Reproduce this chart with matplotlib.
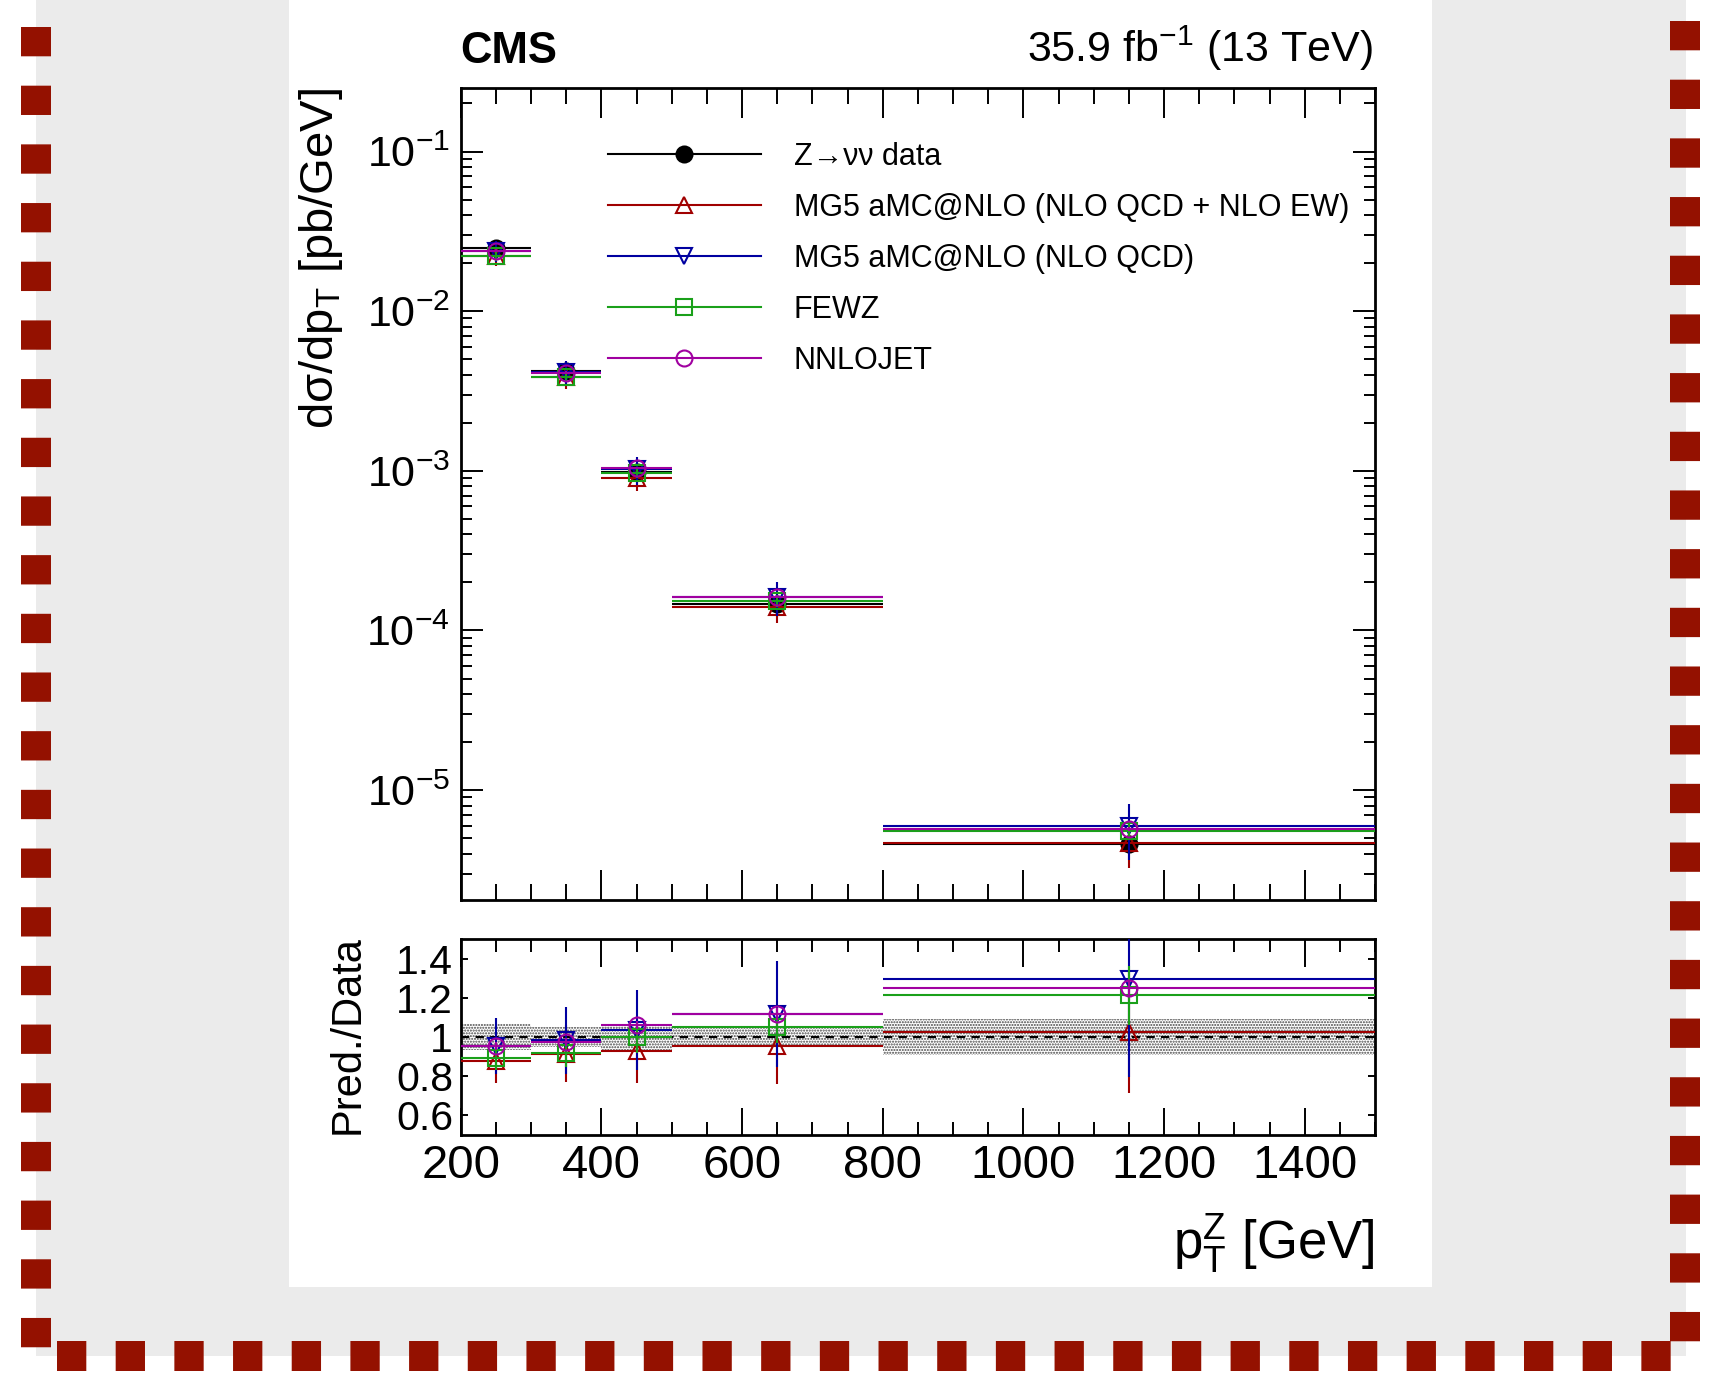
import matplotlib
matplotlib.use('Agg')
import matplotlib.pyplot as plt
import numpy as np
from matplotlib.lines import Line2D
from matplotlib.patches import Rectangle
from matplotlib.ticker import MultipleLocator, LogLocator, NullFormatter, FuncFormatter

plt.rcParams['font.family'] = ['Liberation Sans', 'DejaVu Sans']
plt.rcParams['mathtext.fontset'] = 'custom'
plt.rcParams['mathtext.rm'] = 'Liberation Sans'
plt.rcParams['mathtext.it'] = 'Liberation Sans:italic'
plt.rcParams['mathtext.bf'] = 'Liberation Sans:bold'
plt.rcParams['mathtext.sf'] = 'Liberation Sans'
plt.rcParams['mathtext.default'] = 'regular'
plt.rcParams['hatch.linewidth'] = 1.0

# ---------------- data ----------------
bin_edges = [200, 300, 400, 500, 800, 1500]

series_labels = ['Z→νν data',
                 'MG5 aMC@NLO (NLO QCD + NLO EW)',
                 'MG5 aMC@NLO (NLO QCD)',
                 'FEWZ',
                 'NNLOJET']

# main panel: dsigma/dpT [pb/GeV]
data_xsec   = [0.0250, 0.00423, 0.00098, 1.46e-4, 4.57e-6]
ewk_xsec    = [0.0221, 0.00388, 0.000908, 1.40e-4, 4.65e-6]
qcd_xsec    = [0.0239, 0.00416, 0.00102, 1.63e-4, 5.93e-6]
fewz_xsec   = [0.0222, 0.00389, 0.000975, 1.52e-4, 5.55e-6]
nnlo_xsec   = [0.0239, 0.00412, 0.00104, 1.63e-4, 5.72e-6]

# data relative uncertainty (band in ratio panel)
data_relunc = [0.065, 0.052, 0.064, 0.050, 0.090]

# ratio panel: prediction / data and uncertainties
ewk_ratio  = [0.880, 0.915, 0.931, 0.953, 1.024]
ewk_err    = [0.116, 0.145, 0.167, 0.194, 0.311]
qcd_ratio  = [0.953, 0.983, 1.037, 1.118, 1.298]
qcd_err    = [0.142, 0.172, 0.204, 0.270, 0.500]
fewz_ratio = [0.892, 0.919, 1.000, 1.050, 1.212]
fewz_err   = [0.060, 0.070, 0.080, 0.080, 0.150]
nnlo_ratio = [0.953, 0.973, 1.063, 1.118, 1.250]
nnlo_err   = [0.020, 0.020, 0.020, 0.030, 0.040]

colors  = ['black', '#A00000', '#0000A0', '#1AA01A', '#A000A0']
markers = ['o', '^', 'v', 's', 'o']

# ---------------- figure ----------------
W, H = 1715, 1384
fig = plt.figure(figsize=(W / 100, H / 100), dpi=100, facecolor='white')

def fx(px):
    return px / W

def fy(py):
    return 1 - py / H

# decorative background frame
fig.add_artist(Rectangle((fx(36), fy(1356)), fx(1686) - fx(36), fy(0) - fy(1356),
                         transform=fig.transFigure, facecolor='#EBEBEB', edgecolor='none', zorder=-10))
fig.add_artist(Rectangle((fx(289), fy(1287)), fx(1432) - fx(289), fy(0) - fy(1287),
                         transform=fig.transFigure, facecolor='white', edgecolor='none', zorder=-9))
border_kw = dict(transform=fig.transFigure, color='#941100', lw=21.6, solid_capstyle='butt',
                 dash_capstyle='butt', zorder=-8)
for xs, ys in [((fx(36), fx(36)), (fy(27), fy(1350))),
               ((fx(1685.5), fx(1685.5)), (fy(21), fy(1345))),
               ((fx(57), fx(1675)), (fy(1355.5), fy(1355.5)))]:
    ln = Line2D(xs, ys, **border_kw)
    ln.set_dashes((0.977, 0.979))
    fig.add_artist(ln)

ax = fig.add_axes([fx(460.7), fy(900), fx(1375) - fx(460.7), fy(88) - fy(900)])
axr = fig.add_axes([fx(460.7), fy(1135), fx(1375) - fx(460.7), fy(939) - fy(1135)])

edges = np.array(bin_edges, dtype=float)
centers = 0.5 * (edges[1:] + edges[:-1])
halfw = 0.5 * (edges[1:] - edges[:-1])

main_vals = [data_xsec, ewk_xsec, qcd_xsec, fewz_xsec, nnlo_xsec]
ratio_vals = [None, ewk_ratio, qcd_ratio, fewz_ratio, nnlo_ratio]
ratio_errs = [None, ewk_err, qcd_err, fewz_err, nnlo_err]

for i in range(5):
    vals = np.array(main_vals[i])
    if i == 0:
        rel = np.array(data_relunc)
        mfc = 'black'
    else:
        rel = np.array(ratio_errs[i]) / np.array(ratio_vals[i])
        mfc = 'none'
    ax.errorbar(centers, vals, xerr=halfw, yerr=vals * rel, fmt=markers[i], color=colors[i],
                mfc=mfc, mec=colors[i], ms=11.5, mew=1.5, elinewidth=1.5, capsize=0,
                zorder=3 + i)

# ratio panel
dr = np.array(data_relunc)
for j in range(len(centers)):
    axr.fill_between([edges[j], edges[j + 1]], [1 - dr[j]] * 2, [1 + dr[j]] * 2,
                     facecolor='none', edgecolor='#444444', hatch='......', linewidth=0, zorder=1)
axr.axhline(1.0, color='black', ls=(0, (4, 3)), lw=1.5, zorder=2)
for i in range(1, 5):
    axr.errorbar(centers, ratio_vals[i], xerr=halfw, yerr=ratio_errs[i], fmt=markers[i],
                 color=colors[i], mfc='none', mec=colors[i], ms=11.5, mew=1.5,
                 elinewidth=1.5, capsize=0, zorder=3 + i)

# axes styling
for a in (ax, axr):
    a.set_xlim(200, 1500)
    for s in a.spines.values():
        s.set_linewidth(2.0)
    a.xaxis.set_major_locator(MultipleLocator(200))
    a.xaxis.set_minor_locator(MultipleLocator(50))
    a.tick_params(which='both', direction='in', top=True, right=True, width=1.4)

ax.set_yscale('log')
ax.set_ylim(2.05e-6, 0.25)
ax.yaxis.set_major_locator(LogLocator(base=10, numticks=20))
ax.yaxis.set_minor_locator(LogLocator(base=10, subs=np.arange(2, 10), numticks=20))
ax.yaxis.set_minor_formatter(NullFormatter())
ax.yaxis.set_major_formatter(FuncFormatter(lambda v, p: r'$10^{%d}$' % int(round(np.log10(v)))))
ax.xaxis.set_tick_params(which='major', length=21.6)
ax.xaxis.set_tick_params(which='minor', length=11.3)
ax.yaxis.set_tick_params(which='major', length=15.8, labelsize=31, pad=7.7)
ax.yaxis.set_tick_params(which='minor', length=7.9)
ax.tick_params(axis='x', labelbottom=False)

axr.set_ylim(0.5, 1.5)
axr.set_yticks([0.6, 0.8, 1.0, 1.2, 1.4])
axr.set_yticklabels(['0.6', '0.8', '1', '1.2', '1.4'])
axr.xaxis.set_tick_params(which='major', length=19.8, labelsize=34, pad=6.5)
axr.xaxis.set_tick_params(which='minor', length=9.4)
axr.yaxis.set_tick_params(which='major', length=5, labelsize=29.5, pad=5.5)

ax.set_ylabel(r'd$\sigma$/dp$_{T}$ [pb/GeV]', fontsize=34, loc='top', va='baseline')
ax.yaxis.set_label_coords(-0.1397, 1.0)
axr.set_ylabel('Pred./Data', fontsize=30, va='baseline')
axr.yaxis.set_label_coords(-0.112, 0.51)
axr.set_xlabel(r'p$_{T}^{Z}$ [GeV]', fontsize=38, loc='right', va='baseline')
axr.xaxis.set_label_coords(1.0, -(1259 - 1135) / (1135 - 939))

ax.text(0.0, 1 + (88 - 62.7) / 812, 'CMS', transform=ax.transAxes, fontsize=31.5,
        fontweight='bold', ha='left', va='baseline')
ax.text(0.9978, 1 + (88 - 61.7) / 812, r'35.9 fb$^{-1}$ (13 TeV)', transform=ax.transAxes,
        fontsize=31, ha='right', va='baseline')

handles = []
for i in range(5):
    handles.append(Line2D([], [], color=colors[i], marker=markers[i], lw=1.5, ms=11.5, mew=1.5,
                          mfc='black' if i == 0 else 'none', mec=colors[i]))
ax.legend(handles, series_labels, loc='upper left',
          bbox_to_anchor=((608 - 460.7) / 914.3, 1 - (142 - 88) / 812),
          frameon=False, fontsize=22, handlelength=5.0, handletextpad=1.08,
          labelspacing=0.685, borderpad=0, borderaxespad=0, numpoints=1)

fig.savefig('out.png', dpi=100, facecolor='white')
